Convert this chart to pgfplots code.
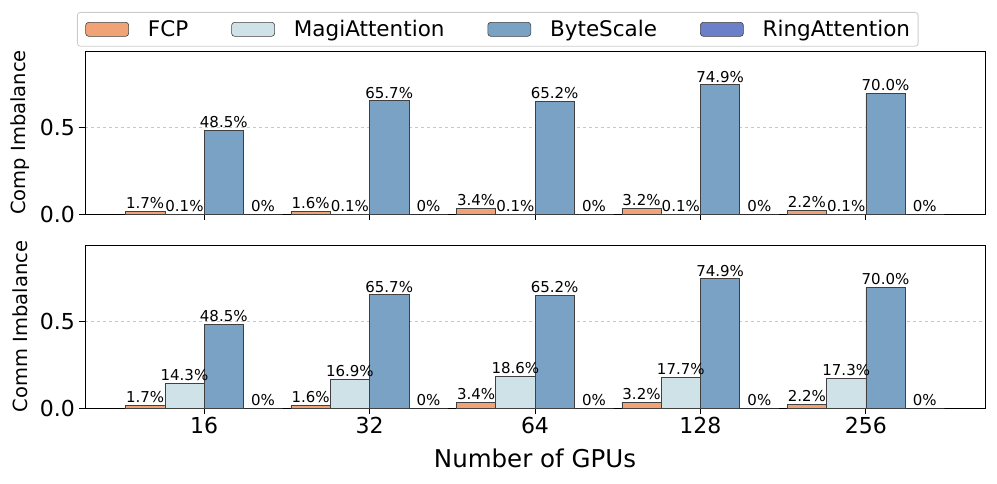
\documentclass[border=0pt]{standalone}
\usepackage{fontspec}
\setmainfont{DejaVu Sans}
\usepackage{pgfplots}
\pgfplotsset{compat=1.18}
\usepackage{pgfplotstable}

\definecolor{cFCP}{RGB}{241,163,120}
\definecolor{cMagi}{RGB}{206,226,232}
\definecolor{cByte}{RGB}{121,162,196}
\definecolor{cRing}{RGB}{108,127,201}

\pgfplotstableread{
x comp lcomp comm lcomm
0 0.017 1.7 0.017 1.7
1 0.016 1.6 0.016 1.6
2 0.034 3.4 0.034 3.4
3 0.032 3.2 0.032 3.2
4 0.022 2.2 0.022 2.2
}\tFCP
\pgfplotstableread{
x comp lcomp comm lcomm
0 0.001 0.1 0.143 14.3
1 0.001 0.1 0.169 16.9
2 0.001 0.1 0.186 18.6
3 0.001 0.1 0.177 17.7
4 0.001 0.1 0.173 17.3
}\tMagi
\pgfplotstableread{
x comp lcomp comm lcomm
0 0.485 48.5 0.485 48.5
1 0.657 65.7 0.657 65.7
2 0.652 65.2 0.652 65.2
3 0.749 74.9 0.749 74.9
4 0.700 70.0 0.700 70.0
}\tByte
\pgfplotstableread{
x comp lcomp comm lcomm
0 0 0 0 0
1 0 0 0 0
2 0 0 0 0
3 0 0 0 0
4 0 0 0 0
}\tRing

\pgfplotsset{
  mybase/.style={
    width=900pt, height=163pt, scale only axis,
    xmin=-0.72, xmax=4.72, ymin=0, ymax=0.944,
    xtick={0,1,2,3,4}, ytick={0,0.5},
    yticklabels={0.0,0.5},
    ymajorgrids, grid style={dashed, black!22, line width=0.7pt},
    tick align=outside, xtick pos=bottom, ytick pos=left,
    major tick length=6pt,
    tick style={black, line width=0.8pt},
    axis line style={black, line width=0.9pt},
    ybar, bar width=0.2375,
    tick label style={font=\fontsize{22}{26}\selectfont},
    yticklabel style={inner xsep=4pt},
    ylabel style={font=\fontsize{19.5}{23}\selectfont, at={(axis description cs:-0.0722,0.5)}, anchor=center},
    point meta=explicit symbolic,
    nodes near coords={\pgfplotspointmeta\%},
    every node near coord/.append style={font=\fontsize{15}{18}\selectfont, anchor=base, inner sep=0pt, yshift=2.5pt, black},
    legend image code/.code={\draw[##1] (0pt,-7pt) rectangle (43pt,7pt); \path (62pt,0pt);},
  },
  pFCP/.style={fill=cFCP, draw=black!75, line width=0.6pt, bar shift=-0.35625},
  pMagi/.style={fill=cMagi, draw=black!75, line width=0.6pt, bar shift=-0.11875},
  pByte/.style={fill=cByte, draw=black!75, line width=0.6pt, bar shift=0.11875},
  pRing/.style={fill=cRing, draw=black!75, line width=0.6pt, bar shift=0.35625},
}

\begin{document}
\begin{tikzpicture}
\path[use as bounding box] (0pt,0pt) rectangle (997pt,483pt);

\begin{axis}[mybase,
  at={(85pt,269pt)}, anchor=south west,
  xticklabels={},
  ylabel={Comp Imbalance},
  legend columns=4,
  legend style={at={(axis description cs:-0.00889,1.2393)}, anchor=north west,
    draw=black!20, rounded corners=3pt, line width=0.8pt, fill=white,
    font=\fontsize{21.5}{25}\selectfont,
    inner xsep=8pt, inner ysep=2pt,
    nodes={inner xsep=0pt, inner ysep=6pt},
    column sep=0pt,
    /tikz/every even column/.append style={column sep=43pt}},
]
\addplot[pFCP] table[x=x, y=comp, meta=lcomp] {\tFCP};
\addplot[pMagi] table[x=x, y=comp, meta=lcomp] {\tMagi};
\addplot[pByte] table[x=x, y=comp, meta=lcomp] {\tByte};
\addplot[pRing] table[x=x, y=comp, meta=lcomp] {\tRing};
\legend{FCP, MagiAttention, ByteScale, RingAttention}
\end{axis}

\begin{axis}[mybase,
  at={(85pt,75pt)}, anchor=south west,
  xticklabels={16,32,64,128,256},
  ylabel={Comm Imbalance},
  xlabel={Number of GPUs},
  xlabel style={font=\fontsize{24.5}{28}\selectfont, at={(axis description cs:0.5,-0.362)}, anchor=base},
]
\addplot[pFCP] table[x=x, y=comm, meta=lcomm] {\tFCP};
\addplot[pMagi] table[x=x, y=comm, meta=lcomm] {\tMagi};
\addplot[pByte] table[x=x, y=comm, meta=lcomm] {\tByte};
\addplot[pRing] table[x=x, y=comm, meta=lcomm] {\tRing};
\end{axis}
\end{tikzpicture}
\end{document}
